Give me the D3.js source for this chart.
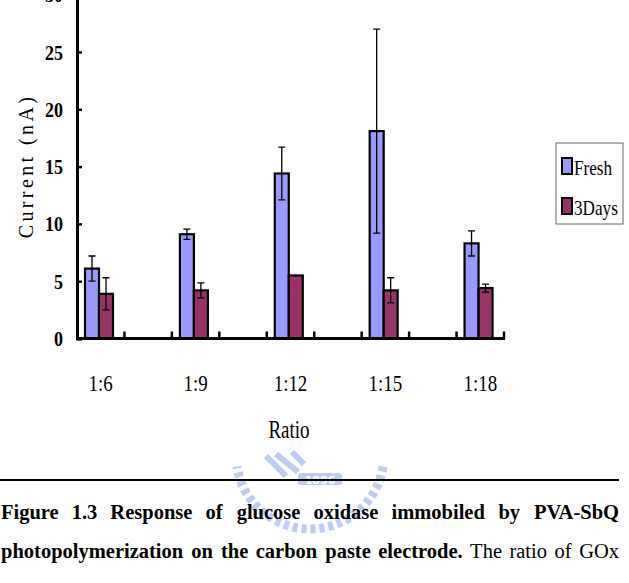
<!DOCTYPE html>
<html>
<head>
<meta charset="utf-8">
<script src="https://cdn.jsdelivr.net/npm/d3@7"></script>
<style>
  html, body { margin: 0; padding: 0; background: #fff; }
  svg { display: block; }
  text { font-family: "Liberation Serif", "Times New Roman", serif; }
</style>
</head>
<body>
<div id="chart"></div>
<script>
// data
const categories = ['1:6', '1:9', '1:12', '1:15', '1:18'];
const series = ['Fresh', '3Days'];
const freshValues = [6.1, 9.1, 14.4, 18.1, 8.3];
const freshErrors = [1.1, 0.45, 2.3, 8.9, 1.1];
const daysValues = [3.9, 4.2, 5.5, 4.2, 4.4];
const daysErrors = [1.4, 0.65, 0, 1.1, 0.35];
const yTicks = [0, 5, 10, 15, 20, 25, 30];
const colors = ['#9999ff', '#993366'];

const captionLine1 = ['Figure', '1.3', 'Response', 'of', 'glucose', 'oxidase', 'immobiled', 'by', 'PVA-SbQ'];
const captionLine2Bold = ['photopolymerization', 'on', 'the', 'carbon', 'paste', 'electrode.'];
const captionLine2Plain = ['The', 'ratio', 'of', 'GOx'];

const width = 629, height = 583;
const svg = d3.select('#chart').append('svg')
  .attr('width', width).attr('height', height);

// plot area: bands with an empty slot between categories
const left = 77, right = 504, y0 = 338.5;
const slots = d3.range(categories.length * 2 - 1);
const x = d3.scaleBand().domain(slots).range([left, right]).padding(0);
const slotOf = (i) => i * 2;
const xSeries = d3.scaleBand().domain(series).range([8, 36]).padding(0);
const y = d3.scaleLinear().domain([0, 30]).range([y0, y0 - 30 * 11.46]);

const rows = categories.map((c, i) => ({
  cat: c, i,
  vals: [
    { s: 'Fresh', v: freshValues[i], e: freshErrors[i] },
    { s: '3Days', v: daysValues[i], e: daysErrors[i] }
  ]
}));

// watermark (faint logo behind caption)
const wm = svg.append('g').attr('opacity', 0.5);
const ring = d3.path();
ring.arc(310, 455, 74, Math.PI * 0.05, Math.PI * 0.95);
wm.append('path')
  .attr('d', ring.toString())
  .attr('fill', 'none')
  .attr('stroke', '#7f9be6')
  .attr('stroke-width', 9)
  .attr('stroke-dasharray', '5 4');
wm.append('path')
  .attr('d', 'M266,456 L286,476 M276,454 L298,472 M292,452 L304,464')
  .attr('stroke', '#7f9be6').attr('stroke-width', 6).attr('fill', 'none');
wm.append('rect')
  .attr('x', 298).attr('y', 473).attr('width', 44).attr('height', 12).attr('rx', 3)
  .attr('fill', '#7f9be6');
wm.append('text')
  .attr('x', 320).attr('y', 483.5).attr('text-anchor', 'middle')
  .attr('font-size', 11).attr('font-weight', 'bold').attr('fill', '#fff')
  .style('font-family', '"DejaVu Sans", sans-serif')
  .text('1896');

// bars
const groups = svg.selectAll('.cat')
  .data(rows)
  .enter()
  .append('g')
  .attr('class', 'cat')
  .attr('transform', d => `translate(${x(slotOf(d.i))},0)`);

groups.selectAll('rect')
  .data(d => d.vals)
  .enter()
  .append('rect')
  .attr('x', d => xSeries(d.s))
  .attr('y', d => y(d.v))
  .attr('width', xSeries.bandwidth())
  .attr('height', d => y(0) - y(d.v))
  .attr('fill', (d, j) => colors[j])
  .attr('stroke', '#000')
  .attr('stroke-width', 2.2);

// error bars
const cap = 3.5;
groups.selectAll('.err')
  .data(d => d.vals.filter(v => v.e > 0))
  .enter()
  .append('path')
  .attr('class', 'err')
  .attr('d', d => {
    const cx = xSeries(d.s) + xSeries.bandwidth() / 2;
    const t = y(d.v + d.e), b = y(d.v - d.e);
    return `M${cx},${t}V${b}M${cx - cap},${t}H${cx + cap}M${cx - cap},${b}H${cx + cap}`;
  })
  .attr('fill', 'none')
  .attr('stroke', '#000')
  .attr('stroke-width', 1.3);

// axes
const gy = svg.append('g').attr('transform', `translate(${left},0)`);
gy.call(d3.axisRight(y).tickValues(yTicks).tickSize(5).tickFormat(''));
gy.select('.domain').attr('stroke-width', 3);
gy.selectAll('.tick line').attr('stroke-width', 2.5);

svg.selectAll('.ylab')
  .data(yTicks)
  .enter()
  .append('text')
  .attr('class', 'ylab')
  .attr('transform', d => `translate(63,${y(d) + 7.5}) scale(0.82,1)`)
  .attr('text-anchor', 'end')
  .attr('font-size', 22)
  .attr('font-weight', 'bold')
  .text(d => d);

const gx = svg.append('g').attr('transform', `translate(0,${y0})`);
gx.append('line')
  .attr('x1', left).attr('x2', right + 1)
  .attr('stroke', '#000').attr('stroke-width', 3);
gx.selectAll('.xt')
  .data(slots.map(s => x(s) + x.bandwidth()))
  .enter()
  .append('line')
  .attr('x1', d => d).attr('x2', d => d)
  .attr('y1', 0).attr('y2', -7)
  .attr('stroke', '#000').attr('stroke-width', 2.5);

svg.selectAll('.xlab')
  .data(rows)
  .enter()
  .append('text')
  .attr('class', 'xlab')
  .attr('transform', d => `translate(${x(slotOf(d.i)) + x.bandwidth() / 2},390.5) scale(0.79,1)`)
  .attr('text-anchor', 'middle')
  .attr('font-size', 24)
  .text(d => d.cat);

svg.append('text')
  .attr('transform', 'translate(289,438) scale(0.76,1)')
  .attr('text-anchor', 'middle')
  .attr('font-size', 25)
  .text('Ratio');

svg.append('text')
  .attr('transform', 'translate(33,166) rotate(-90)')
  .attr('text-anchor', 'middle')
  .attr('font-size', 20)
  .attr('letter-spacing', 3.4)
  .text('Current (nA)');

// legend
const lg = svg.append('g');
lg.append('rect')
  .attr('x', 556).attr('y', 143).attr('width', 67).attr('height', 81)
  .attr('fill', '#fff').attr('stroke', '#666').attr('stroke-width', 1);
const lgItems = lg.selectAll('.li')
  .data(series)
  .enter()
  .append('g')
  .attr('transform', (d, j) => `translate(0,${j === 0 ? 158 : 198})`);
lgItems.append('rect')
  .attr('x', 562).attr('y', 0).attr('width', 10).attr('height', 16)
  .attr('fill', (d, j) => colors[j])
  .attr('stroke', '#000').attr('stroke-width', 2);
lgItems.append('text')
  .attr('transform', 'translate(574,17) scale(0.78,1)')
  .attr('font-size', 22)
  .text(d => d);

// caption
svg.append('line')
  .attr('x1', 0).attr('x2', 619).attr('y1', 480).attr('y2', 480)
  .attr('stroke', '#000').attr('stroke-width', 2);

// justified line: first word at x0, last word ends at x1, even gaps between
function justify(words, yPos, x0, x1) {
  const nodes = words.map(w => svg.append('text')
    .attr('y', yPos)
    .attr('font-size', 20.5)
    .attr('font-weight', w.bold ? 'bold' : 'normal')
    .text(w.t));
  const widths = nodes.map(n => n.node().getBBox().width);
  const gap = Math.max(3, (x1 - x0 - d3.sum(widths)) / (words.length - 1));
  let cx = x0;
  nodes.forEach((n, k) => {
    if (k === nodes.length - 1) {
      n.attr('x', x1).attr('text-anchor', 'end');
    } else {
      n.attr('x', cx);
    }
    cx += widths[k] + gap;
  });
}
justify(captionLine1.map(t => ({ t, bold: true })), 518.5, 1, 619);
justify(captionLine2Bold.map(t => ({ t, bold: true }))
  .concat(captionLine2Plain.map(t => ({ t, bold: false }))), 558, 1, 619);
</script>
</body>
</html>
